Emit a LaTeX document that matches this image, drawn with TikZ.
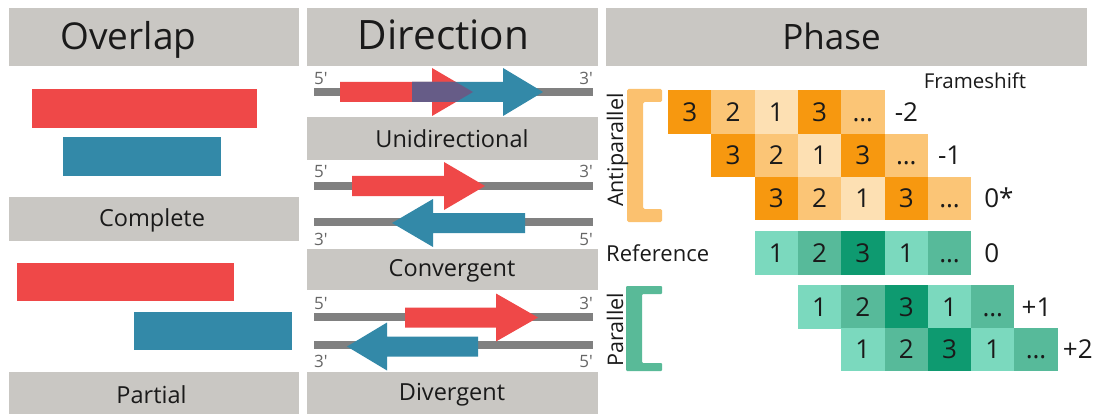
\documentclass[tikz,border=0pt]{standalone}
\usepackage{fontspec}
\setmainfont{Open Sans}

\definecolor{hdrgray}{HTML}{C9C7C3}
\definecolor{strandgray}{HTML}{808080}
\definecolor{primegray}{HTML}{666666}
\definecolor{genered}{HTML}{EF4848}
\definecolor{geneblue}{HTML}{3389A8}
\definecolor{genemix}{HTML}{665C87}
\definecolor{orA}{HTML}{F7980F}
\definecolor{orB}{HTML}{FBC576}
\definecolor{orC}{HTML}{FDE0B3}
\definecolor{tlA}{HTML}{0E9A70}
\definecolor{tlB}{HTML}{57BA9A}
\definecolor{tlC}{HTML}{7BD9BE}
\definecolor{orbracket}{HTML}{FBC16F}
\definecolor{tlbracket}{HTML}{59BA98}
\definecolor{ink}{HTML}{1A1A1A}

% outline of a gene arrow: shaft start, head base, tip, centre line
\newcommand\geneshape[4]{(#1,#4-10) -- (#2,#4-10) -- (#2,#4-24) -- (#3,#4) -- (#2,#4+24) -- (#2,#4+10) -- (#1,#4+10) -- cycle}
% strand end labels with a straight prime
\newcommand\fiveend{5\textquotesingle}
\newcommand\threeend{3\textquotesingle}

\begin{document}
\begin{tikzpicture}[x=1pt,y=-1pt,
  panelbox/.style={fill=hdrgray,inner sep=0pt,outer sep=0pt},
  hdrtext/.style={anchor=base,inner sep=0pt,text=ink,font=\fontsize{37}{40}\selectfont},
  subtext/.style={anchor=base,inner sep=0pt,text=ink,font=\fontsize{23.5}{26}\selectfont},
  prime/.style={inner sep=0pt,text=primegray,font=\fontsize{17}{19}\selectfont},
  strand/.style={draw=strandgray,line width=8pt},
  cell/.style={minimum width=43.3pt,minimum height=43.3pt,inner sep=0pt,outer sep=0pt,
    text height=18.6pt,text depth=0pt,text=ink,font=\fontsize{26}{28}\selectfont},
  shiftlbl/.style={anchor=west,inner sep=0pt,text height=18.6pt,text depth=0pt,
    text=ink,font=\fontsize{26}{28}\selectfont},
  sidelbl/.style={anchor=base,inner sep=0pt,rotate=90,text=ink,font=\fontsize{21.5}{24}\selectfont},
  oA/.style={fill=orA},oB/.style={fill=orB},oC/.style={fill=orC},
  tA/.style={fill=tlA},tB/.style={fill=tlB},tC/.style={fill=tlC}]
\useasboundingbox (0,0) rectangle (1099,414);

% ---------- Overlap ----------
\node[panelbox,minimum width=290pt,minimum height=58pt] (ovbox) at (154,37) {};
\node[hdrtext] (ovtxt) at (128.5,50) {Overlap};
\fill[genered]  (32,89) rectangle (257,128);
\fill[geneblue] (63,137) rectangle (221,176);
\node[panelbox,minimum width=290pt,minimum height=44pt] (cpbox) at (154,219) {};
\node[subtext] (cptxt) at (152,226.5) {Complete};
\fill[genered]  (17,263) rectangle (234,301);
\fill[geneblue] (134,312) rectangle (292,350);
\node[panelbox,minimum width=290pt,minimum height=42pt] (ptbox) at (154,393) {};
\node[subtext] (pttxt) at (151.5,403) {Partial};

% ---------- Direction ----------
\node[panelbox,minimum width=291pt,minimum height=58pt] (dibox) at (452.5,37) {};
\node[hdrtext,font=\fontsize{40.5}{44}\selectfont] (ditxt) at (443.5,50) {Direction};

% unidirectional
\draw[strand] (314,92) -- (593,92);
\node[prime,anchor=base west] (u5) at (314,85) {\fiveend};
\node[prime,anchor=base east] (u3) at (593,85) {\threeend};
\fill[genered] \geneshape{340}{432}{473}{92};
\fill[geneblue] \geneshape{412}{503}{543}{92};
\begin{scope}
  \clip \geneshape{412}{503}{543}{92};
  \fill[genemix] \geneshape{340}{432}{473}{92};
\end{scope}
\node[panelbox,minimum width=291pt,minimum height=43pt] (unbox) at (452.5,138.5) {};
\node[subtext] (untxt) at (452,148) {Unidirectional};

% convergent
\draw[strand] (314,185.5) -- (593,185.5);
\draw[strand] (314,222) -- (593,222);
\node[prime,anchor=base west] (c5a) at (314,178) {\fiveend};
\node[prime,anchor=base east] (c3a) at (593,178) {\threeend};
\node[prime,anchor=base west] (c3b) at (314,245) {\threeend};
\node[prime,anchor=base east] (c5b) at (593,245) {\fiveend};
\fill[genered] \geneshape{352}{444}{485}{186};
\fill[geneblue] \geneshape{525}{433}{392}{223};
\node[panelbox,minimum width=291pt,minimum height=41pt] (cvbox) at (452.5,269.5) {};
\node[subtext] (cvtxt) at (452,276.5) {Convergent};

% divergent
\draw[strand] (314,317) -- (593,317);
\draw[strand] (314,345) -- (593,345);
\node[prime,anchor=base west] (d5a) at (314,309) {\fiveend};
\node[prime,anchor=base east] (d3a) at (593,309) {\threeend};
\node[prime,anchor=base west] (d3b) at (314,367) {\threeend};
\node[prime,anchor=base east] (d5b) at (593,367) {\fiveend};
\fill[genered] \geneshape{405}{496}{538}{317.5};
\fill[geneblue] \geneshape{478}{387}{347}{346.5};
\node[panelbox,minimum width=291pt,minimum height=42pt] (dvbox) at (452.5,393) {};
\node[subtext] (dvtxt) at (452,400) {Divergent};

% ---------- Phase ----------
\node[panelbox,minimum width=481pt,minimum height=58pt] (phbox) at (846.5,37) {};
\node[hdrtext,font=\fontsize{35}{38}\selectfont] (phtxt) at (831.5,50) {Phase};
\node[anchor=base,inner sep=0pt,text=ink,font=\fontsize{20.5}{23}\selectfont] (fstxt) at (975,89) {Frameshift};

% antiparallel reading frames
\foreach \s/\t [count=\i from 0] in {oA/3,oB/2,oC/1,oA/3,oB/\dots}
  \node[cell,\s] (am\i) at ({689.7+43.3*\i},112) {\t};
\foreach \s/\t [count=\i from 0] in {oA/3,oB/2,oC/1,oA/3,oB/\dots}
  \node[cell,\s] (an\i) at ({733+43.3*\i},155.5) {\t};
\foreach \s/\t [count=\i from 0] in {oA/3,oB/2,oC/1,oA/3,oB/\dots}
  \node[cell,\s] (az\i) at ({776.3+43.3*\i},198.5) {\t};
\node[shiftlbl] (amlbl) at ([xshift=10pt]am4.east) {-2};
\node[shiftlbl] (anlbl) at ([xshift=10pt]an4.east) {-1};
\node[shiftlbl] (azlbl) at ([xshift=13pt]az4.east) {0*};

% reference frame
\node[anchor=base west,inner sep=0pt,text=ink,font=\fontsize{22}{24}\selectfont] (reftxt) at (606,261.5) {Reference};
\foreach \s/\t [count=\i from 0] in {tC/1,tB/2,tA/3,tC/1,tB/\dots}
  \node[cell,\s] (rf\i) at ({776.3+43.3*\i},253) {\t};
\node[shiftlbl] (rflbl) at ([xshift=13pt]rf4.east) {0};

% parallel reading frames
\foreach \s/\t [count=\i from 0] in {tC/1,tB/2,tA/3,tC/1,tB/\dots}
  \node[cell,\s] (pa\i) at ({819.6+43.3*\i},307) {\t};
\foreach \s/\t [count=\i from 0] in {tC/1,tB/2,tA/3,tC/1,tB/\dots}
  \node[cell,\s] (pb\i) at ({862.9+43.3*\i},349.5) {\t};
\node[shiftlbl] (palbl) at ([xshift=7pt]pa4.east) {+1};
\node[shiftlbl] (pblbl) at ([xshift=5pt]pb4.east) {+2};

% group brackets
\fill[orbracket,rounded corners=1.5pt] (662,89) -- (627,89) -- (627,222) -- (662,222)
  -- (662,209) -- (643,209) -- (643,102) -- (662,102) -- cycle;
\node[sidelbl] (aptxt) at (623,150) {Antiparallel};
\fill[tlbracket,rounded corners=1pt] (662,286) -- (626,286) -- (626,371) -- (662,371)
  -- (662,363) -- (642,363) -- (642,294) -- (662,294) -- cycle;
\node[sidelbl] (patxt) at (623,329.5) {Parallel};
\end{tikzpicture}
\end{document}
